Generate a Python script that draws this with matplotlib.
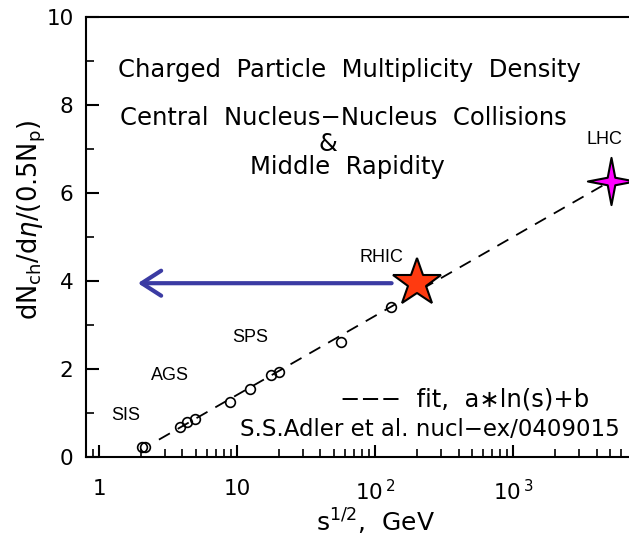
import matplotlib
matplotlib.use('Agg')
import matplotlib.pyplot as plt
import numpy as np
from matplotlib.path import Path
from matplotlib.ticker import FixedLocator, NullFormatter

# Measured charged particle multiplicity vs collision energy
sqrt_s = [2.05, 2.15, 3.83, 4.33, 4.92, 8.8, 12.4, 17.4, 19.9, 56.0, 130.0]
mult = [0.23, 0.23, 0.675, 0.80, 0.857, 1.26, 1.54, 1.86, 1.925, 2.61, 3.42]

# highlighted facilities
rhic_x, rhic_y = 200.0, 3.95
lhc_x, lhc_y = 5100.0, 6.27

# fit: a*ln(s)+b with s = (sqrt_s)^2
fit_a, fit_b = 0.39, -0.38
fit_range = [2.7, 5100.0]

# arrow from RHIC back to low energies
arrow_from, arrow_to = 131.0, 1.9

W, H = 629, 544
fig = plt.figure(figsize=(W / 100, H / 100), dpi=100)

def px(x, y):
    return x / W, 1 - y / H

xmin, xmax = 0.8, 1e4
left, bottom = px(86, 457)
_, top = px(0, 17)
ax = fig.add_axes([left, bottom, 0.899, top - bottom])
ax.set_xscale('log')
ax.set_xlim(xmin, xmax)
ax.set_ylim(0, 10)

for s in ['left', 'bottom', 'top']:
    ax.spines[s].set_linewidth(1.5)
ax.spines['right'].set_visible(False)

# y ticks
ax.set_yticks([0, 2, 4, 6, 8, 10])
ax.set_yticks([1, 3, 5, 7, 9], minor=True)
# x ticks
ax.xaxis.set_major_locator(FixedLocator([1, 10, 100, 1000, 10000]))
minors = [m * 10.0 ** d for d in range(-1, 4) for m in range(2, 10)]
ax.xaxis.set_minor_locator(FixedLocator(minors))
ax.xaxis.set_minor_formatter(NullFormatter())
ax.set_xticklabels(['1', '10', r'10$^{\,2}$', r'10$^{\,3}$', ''])

ax.tick_params(which='major', direction='in', length=9, width=1.5,
               labelsize=15.5, pad=9, top=False, right=False)
ax.tick_params(which='minor', direction='in', length=6, width=1.2,
               top=False, right=False)
ax.tick_params(axis='x', which='major', pad=16)

# fit line
xf = np.logspace(np.log10(fit_range[0]), np.log10(fit_range[1]), 200)
yf = fit_a * np.log(xf ** 2) + fit_b
ax.plot(xf, yf, color='black', lw=1.3, dashes=(7, 5), zorder=2)

# data points
ax.plot(sqrt_s, mult, 'o', mfc='none', mec='black', ms=7, mew=1.2, zorder=3)

# arrow
ax.annotate('', xy=(arrow_to, rhic_y), xytext=(arrow_from, rhic_y),
            arrowprops=dict(arrowstyle='->,head_length=0.7,head_width=0.45',
                            color='#3b3ba3', lw=3, mutation_scale=20,
                            shrinkA=0, shrinkB=0), zorder=4)

# RHIC star
ax.plot([rhic_x], [rhic_y], marker='*', ms=36, mfc='#ff3a10', mec='black',
        mew=1.5, zorder=5, clip_on=False)

# LHC four-pointed star
k = 0.16
verts = [(0, 1), (k, k), (1, 0), (k, -k), (0, -1), (-k, -k), (-1, 0), (-k, k), (0, 1)]
codes = [Path.MOVETO] + [Path.LINETO] * 7 + [Path.CLOSEPOLY]
star4 = Path(verts, codes)
ax.plot([lhc_x], [lhc_y], marker=star4, ms=34, mfc='#ff00ff', mec='black',
        mew=1.5, zorder=5, clip_on=False)

# axis labels
fig.text(*px(32, 220), r'dN$_{\rm ch}$/d$\eta$/(0.5N$_{\rm p}$)', fontsize=18.5,
         rotation=90, ha='center', va='center')
fig.text(*px(376, 522), r's$^{1/2}$,  GeV', fontsize=18, ha='center', va='center')

# headline text
head = dict(fontsize=17.5, ha='center', va='center')
fig.text(*px(349, 70), 'Charged  Particle  Multiplicity  Density', **head)
fig.text(*px(343, 118), 'Central  Nucleus\u2212Nucleus  Collisions', **head)
fig.text(*px(328, 144), '&', **head)
fig.text(*px(347, 167), 'Middle  Rapidity', **head)

# facility labels
lab = dict(fontsize=13, family='Liberation Sans', ha='center', va='center')
fig.text(*px(604, 140), 'LHC', **lab)
fig.text(*px(381, 258), 'RHIC', **lab)
fig.text(*px(250, 337), 'SPS', **lab)
fig.text(*px(170, 376), 'AGS', **lab)
fig.text(*px(126, 415), 'SIS', **lab)

fig.text(*px(340, 400), '\u2212\u2212\u2212  fit,  a\u2217ln(s)+b', fontsize=17.5,
         ha='left', va='center')
fig.text(*px(240, 429), 'S.S.Adler et al. nucl\u2212ex/0409015', fontsize=16.5,
         ha='left', va='center')

fig.savefig('out.png', dpi=100)
